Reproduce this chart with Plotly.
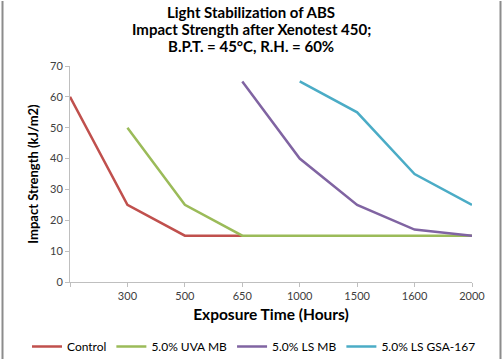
import plotly.graph_objects as go

categories = ["", "300", "500", "650", "1000", "1500", "1600", "2000"]
control = [60, 25, 15, 15, None, None, None, None]
uva_mb = [None, 50, 25, 15, 15, 15, 15, 15]
ls_mb = [None, None, None, 65, 40, 25, 17, 15]
ls_gsa = [None, None, None, None, 65, 55, 35, 25]
y_ticks = [0, 10, 20, 30, 40, 50, 60, 70]
title_lines = ["Light Stabilization of ABS",
               "Impact Strength after Xenotest 450;",
               "B.P.T. = 45°C, R.H. = 60%"]

series = [
    ("Control", control, "#C0504D"),
    ("5.0% UVA MB", uva_mb, "#9BBB59"),
    ("5.0% LS MB", ls_mb, "#8064A2"),
    ("5.0% LS GSA-167", ls_gsa, "#4BACC6"),
]

xi = list(range(len(categories)))
fig = go.Figure()
for name, vals, color in series:
    fig.add_trace(go.Scatter(x=xi, y=vals, name=name, mode="lines",
                             line=dict(color=color, width=2.5)))

FONT = "Lato, Open Sans, sans-serif"
W, H = 503, 360
ml, mr, mt, mb = 70, 31, 66, 78
pw = W - ml - mr
ph = H - mt - mb
fig.update_layout(
    width=W, height=H,
    margin=dict(l=ml, r=mr, t=mt, b=mb, autoexpand=False),
    paper_bgcolor="white", plot_bgcolor="white",
    font=dict(family=FONT, color="#404040", size=11),
    xaxis=dict(range=[0, len(categories) - 1], tickmode="array", tickvals=xi,
               ticktext=categories, showgrid=False, zeroline=False,
               showline=True, linecolor="#BFBFBF", linewidth=1,
               ticks="outside", ticklen=4, tickcolor="#BFBFBF",
               tickfont=dict(size=11, color="#404040"),
               title=dict(text="<b>Exposure Time (Hours)</b>", standoff=7,
                          font=dict(family=FONT, size=15.5, color="#000000"))),
    yaxis=dict(range=[0, 70], tickvals=y_ticks, showgrid=False, zeroline=False,
               showline=True, linecolor="#BFBFBF", linewidth=1,
               ticks="outside", ticklen=4, tickcolor="#BFBFBF",
               tickfont=dict(size=11, color="#404040"),
               title=dict(text="<b>Impact Strength (kJ/m2)</b>", standoff=8,
                          font=dict(family=FONT, size=13, color="#000000"))),
    legend=dict(orientation="h", x=(27 - ml) / pw, xanchor="left",
                y=-(332 - (H - mb)) / ph, yanchor="top",
                font=dict(family=FONT, size=12, color="#000000"),
                itemwidth=30, tracegroupgap=0),
    showlegend=True,
)
for i, line in enumerate(title_lines):
    ypx = 12 + 17 * i
    fig.add_annotation(text="<b>" + line + "</b>", xref="paper", yref="paper",
                       x=(251 - ml) / pw, y=1 + (mt - ypx) / ph,
                       xanchor="center", yanchor="middle", showarrow=False,
                       font=dict(family=FONT, size=15, color="#000000"))
# outer chart frame (left and right edges)
for px in (2.5, 500.5):
    xp = (px - ml) / pw
    fig.add_shape(type="rect", xref="paper", yref="paper", x0=xp - 1 / pw, x1=xp + 1 / pw,
                  y0=-(mb - 1) / ph, y1=1 + (mt - 1) / ph, layer="above",
                  fillcolor="#8C8C8C", line=dict(width=0))

fig.write_html("out.html", config={"displayModeBar": False},
               post_script="document.body.style.margin='0';document.body.style.padding='0';")
